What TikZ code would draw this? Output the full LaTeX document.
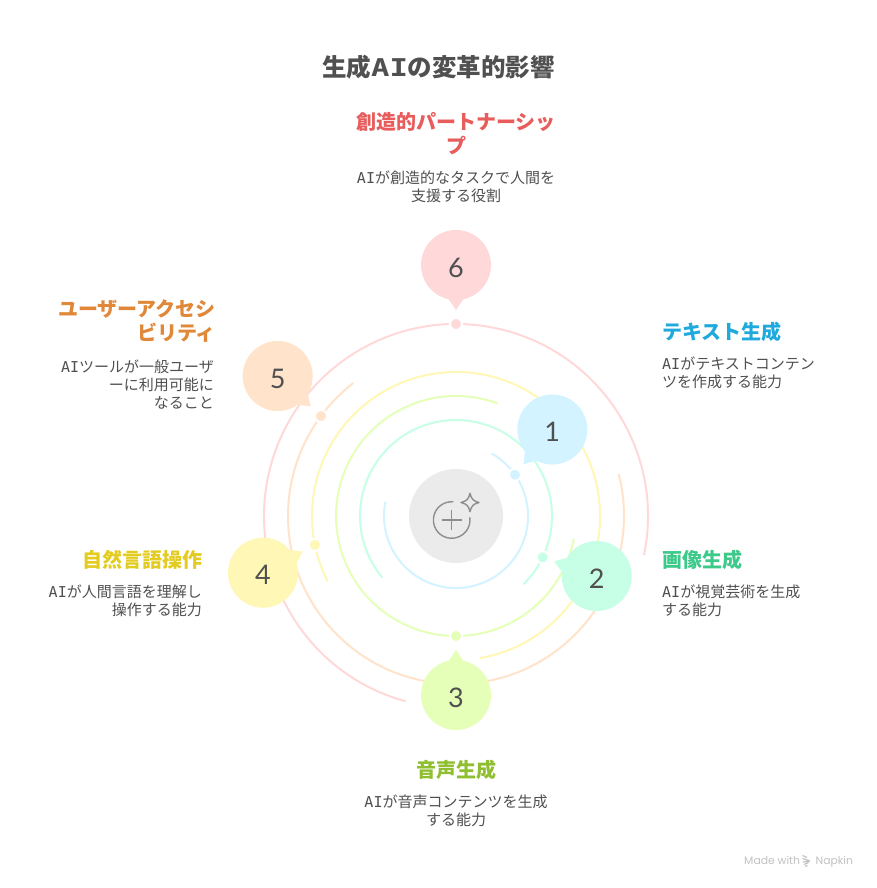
\documentclass[tikz,border=0pt]{standalone}
\usepackage{fontspec}
\usetikzlibrary{calc}
\setmainfont{Noto Sans CJK JP}
\newfontfamily\aifont{DejaVu Sans Mono}
\newfontfamily\numfont{Lato}
\newfontfamily\brandfont{Poppins}
\definecolor{cblue}{HTML}{D2F3FF}
\definecolor{caqua}{HTML}{C6FFE5}
\definecolor{clime}{HTML}{E6FFB8}
\definecolor{cyell}{HTML}{FFF7B5}
\definecolor{corng}{HTML}{FFE3CA}
\definecolor{cpink}{HTML}{FFD9D9}
\definecolor{tblue}{HTML}{1FA9DC}
\definecolor{taqua}{HTML}{3CC98A}
\definecolor{tlime}{HTML}{8FBF30}
\definecolor{tyell}{HTML}{E3CC1F}
\definecolor{torng}{HTML}{E08838}
\definecolor{tpink}{HTML}{E85C5C}
\definecolor{ink}{HTML}{505050}
\definecolor{iconc}{HTML}{8E8E8E}
\newcommand{\AIm}{{\aifont AI}}
\tikzset{
  ring/.style={line width=2pt},
  dotn/.style={circle,draw=white,line width=2pt,minimum size=12pt,inner sep=0pt,outer sep=0pt},
  bubble/.style={circle,minimum size=70pt,inner sep=0pt,outer sep=0pt,text=ink,font=\fontsize{27}{30}\numfont},
  head/.style={inner sep=0pt,font=\fontsize{20}{24}\selectfont\bfseries},
  desc/.style={inner sep=0pt,text=ink,font=\fontsize{15}{18}\selectfont},
  iconline/.style={draw=iconc,line width=1.4pt},
  brand/.style={inner sep=0pt,anchor=base west,text=black!24,font=\fontsize{10.8}{12}\brandfont}
}
\begin{document}
\begin{tikzpicture}[x=1pt,y=-1pt]
\useasboundingbox (0,0) rectangle (876,888);
\fill[white] (0,0) rectangle (876,888);
\coordinate (c) at (456,516);
% rings
\foreach \col/\r/\a/\b in {cblue/72/60.3/-191.4,caqua/96/-45.4/219.8,clime/120/69.7/349,cyell/144/-80.4/207,corng/168/127.7/374.5,cpink/192/-11.7/254.8}{
  \draw[ring,\col] (c) ++(\a:\r pt) arc[start angle=\a,end angle=\b,radius=\r pt];
}
% dots
\foreach \i/\col/\r/\a in {1/cblue/72/35,2/caqua/96/-25.5,3/clime/120/270,4/cyell/144/191.6,5/corng/168/143.5,6/cpink/192/90}{
  \node[dotn,fill=\col] (d\i) at ($(c)+(\a:\r pt)$) {};
}
% bubbles
\foreach \i/\col/\x/\y in {1/cblue/552.3/429.5,2/caqua/596.7/576,3/clime/456/695,4/cyell/263/572.7,5/corng/277.7/376,6/cpink/456/265}{
  \node[bubble,fill=\col] (b\i) at (\x,\y) {\raisebox{-2.5pt}[19.4pt][0pt]{\i}};
  \fill[\col] let \p1=($(d\i)-(b\i)$), \n1={atan2(\y1,\x1)} in
    ($(b\i)+(\n1+13:34.5pt)$) -- ($(b\i)!45pt!(d\i)$) -- ($(b\i)+(\n1-13:34.5pt)$) -- cycle;
}
% centre
\node[circle,fill=black!8,minimum size=94pt,inner sep=0pt] (hub) at (c) {};
\coordinate (ic) at (451.7,520);
\draw[iconline] (ic) ++(85:18.3pt) arc[start angle=85,end angle=368,radius=18.3pt];
\draw[iconline] (441.7,520) -- (462.3,520);
\draw[iconline] (451.7,510) -- (451.7,530);
\draw[iconline,line join=round] (470,493.3) .. controls (471.5,499) and (473,501) .. (479,502.5)
  .. controls (473,504) and (471.5,506) .. (470,511.7)
  .. controls (468.5,506) and (467,504) .. (461,502.5)
  .. controls (467,501) and (468.5,499) .. (470,493.3) -- cycle;
% title
\node[inner sep=0pt,text=ink,font=\fontsize{24.5}{28}\selectfont\bfseries] (title) at (438.5,67.5)
  {生成\scalebox{1.25}[1]{\AIm}の変革的影響};
% labels
\node[head,text=tpink,align=center] (h6) at (456,134) {創造的パートナーシッ\\プ};
\node[desc,align=center] (t6) at (456,187) {\AIm が創造的なタスクで人間を\\支援する役割};
\node[head,text=tblue,anchor=west] (h1) at (662,332) {テキスト生成};
\node[desc,align=left,anchor=west] (t1) at (662,372.5) {\AIm がテキストコンテン\\ツを作成する能力};
\node[head,text=taqua,anchor=west] (h2) at (662,560) {画像生成};
\node[desc,align=left,anchor=west] (t2) at (662,601) {\AIm が視覚芸術を生成\\する能力};
\node[head,text=tlime] (h3) at (456,770) {音声生成};
\node[desc,align=center] (t3) at (456,811) {\AIm が音声コンテンツを生成\\する能力};
\node[head,text=tyell,anchor=east] (h4) at (202.5,560) {自然言語操作};
\node[desc,align=right,anchor=east] (t4) at (202,601) {\AIm が人間言語を理解し\\操作する能力};
\node[head,text=torng,align=right,anchor=east] (h5) at (216,321) {ユーザーアクセシ\\ビリティ};
\node[desc,align=right,anchor=east] (t5) at (214,384.5) {\AIm ツールが一般ユーザ\\ーに利用可能に\\なること};
% brand
\node[brand] (made) at (744,864) {Made with};
\node[brand] (napkin) at (815.5,864) {Napkin};
\draw[black!24,line width=1.2pt] (802.5,855.5)--(807,857.5) (802.5,858.5)--(810,861) (803,862)--(810,861) (804,864.5)--(808.5,862.5) (805,866.5)--(807.5,865.5);
\end{tikzpicture}
\end{document}
